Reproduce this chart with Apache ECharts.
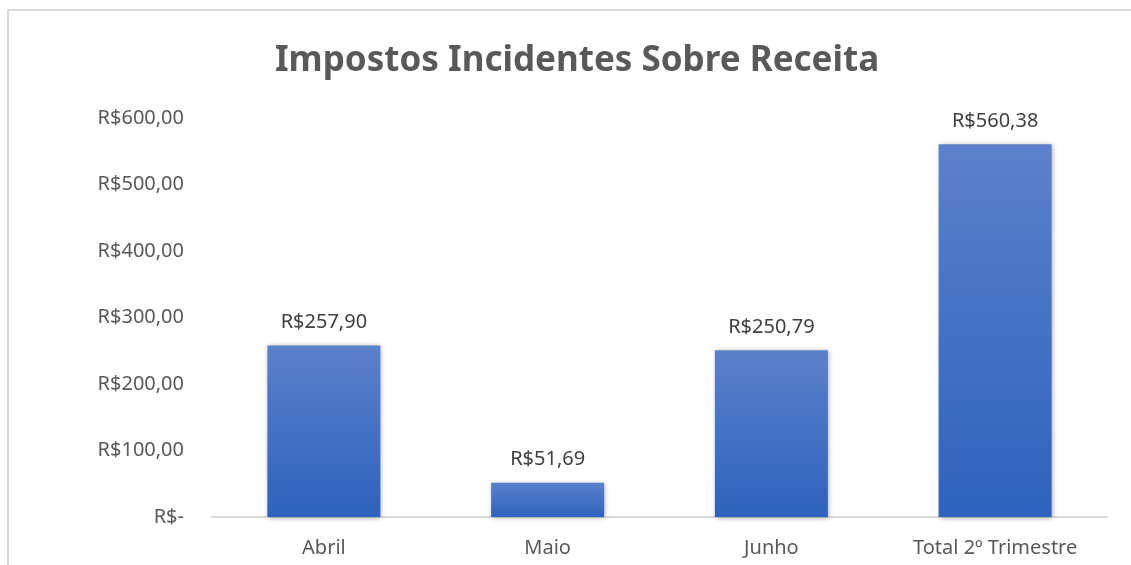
<!DOCTYPE html>
<html>
<head>
<meta charset="utf-8">
<script src="https://cdn.jsdelivr.net/npm/echarts@6/dist/echarts.min.js"></script>
<style>
  html, body { margin: 0; padding: 0; background: #fff; }
  #chart { width: 1131px; height: 565px; }
  #frame { position: absolute; left: 7px; top: 9px; width: 1140px; height: 600px; border: 2px solid #d9d9d9; box-sizing: border-box; pointer-events: none; }
</style>
</head>
<body>
<div id="chart"></div>
<div id="frame"></div>
<script>
const categories = ['Abril', 'Maio', 'Junho', 'Total 2º Trimestre']
const impostos = [257.90, 51.69, 250.79, 560.38]
const yTicks = [0, 100, 200, 300, 400, 500, 600]

// formato moeda brasileira, zero vira "R$-"
const brl = (v) => {
  if (v === 0) return 'R$-'
  return 'R$' + v.toFixed(2).replace('.', ',')
}

const chart = echarts.init(document.getElementById('chart'))
chart.setOption({
  animation: false,
  textStyle: { fontFamily: 'Noto Sans' },
  title: {
    text: 'Impostos Incidentes Sobre Receita',
    left: 270,
    top: 39,
    textStyle: { fontSize: 35, fontWeight: 'bold', color: '#595959', fontFamily: 'Noto Sans' }
  },
  grid: { left: 212, right: 24, top: 118, bottom: 48 },
  xAxis: {
    type: 'category',
    data: categories,
    axisLine: { lineStyle: { color: '#d9d9d9', width: 2 } },
    axisTick: { show: false },
    axisLabel: { color: '#595959', fontSize: 20, margin: 21 }
  },
  yAxis: {
    type: 'value',
    min: yTicks[0],
    max: yTicks[yTicks.length - 1],
    interval: 100,
    splitLine: { show: false },
    axisLine: { show: false },
    axisTick: { show: false },
    axisLabel: { color: '#595959', fontSize: 20, margin: 28, formatter: brl }
  },
  series: [{
    type: 'bar',
    data: impostos,
    barWidth: '50.5%',
    itemStyle: {
      color: new echarts.graphic.LinearGradient(0, 0, 0, 1, [
        { offset: 0, color: '#5b81ca' },
        { offset: 1, color: '#2e62be' }
      ]),
      shadowColor: 'rgba(0,0,0,0.35)',
      shadowBlur: 5,
      shadowOffsetX: 1,
      shadowOffsetY: 1
    },
    label: {
      show: true,
      position: 'top',
      distance: 13,
      color: '#404040',
      fontSize: 20,
      formatter: (p) => brl(p.value)
    }
  }]
})
</script>
</body>
</html>
